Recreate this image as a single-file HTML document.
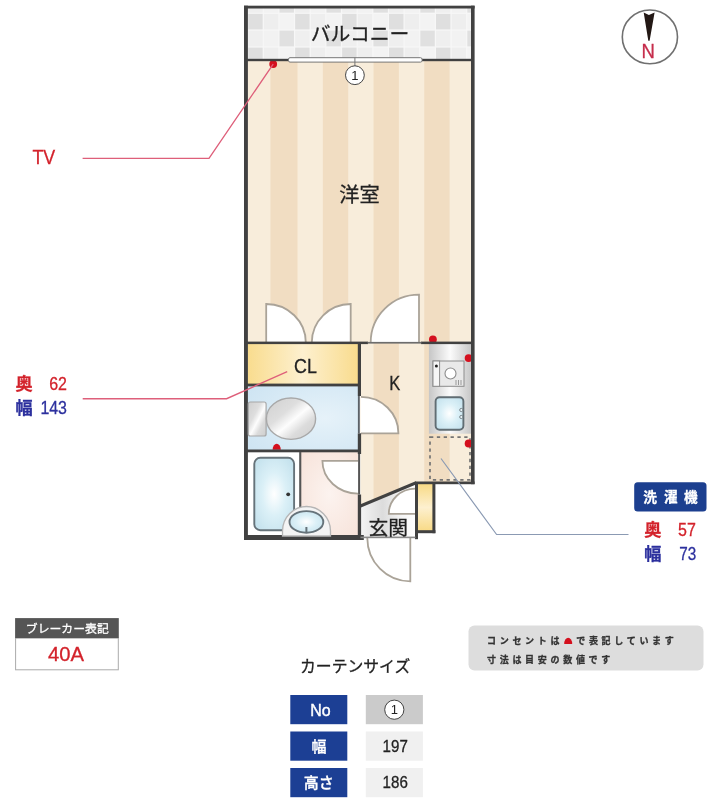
<!DOCTYPE html>
<html lang="ja"><head><meta charset="utf-8"><title>間取り図</title>
<style>html,body{margin:0;padding:0;background:#fff}body{width:710px;height:800px;overflow:hidden;font-family:"Liberation Sans","Noto Sans CJK JP",sans-serif}svg{display:block;filter:blur(.45px)}</style>
</head><body>
<svg width="710" height="800" viewBox="0 0 710 800">
<defs>
<linearGradient id="gCL" x1="0" x2="1" y1="0" y2="0"><stop offset="0" stop-color="#f9dc8e"/><stop offset=".5" stop-color="#fdf0cf"/><stop offset="1" stop-color="#f9dc8e"/></linearGradient>
<linearGradient id="gShoe" x1="0" x2="0" y1="0" y2="1"><stop offset="0" stop-color="#f8da86"/><stop offset=".5" stop-color="#fdf0cf"/><stop offset="1" stop-color="#f8da86"/></linearGradient>
<radialGradient id="gToilet" cx=".7" cy=".5" r=".8"><stop offset="0" stop-color="#e6f2f9"/><stop offset="1" stop-color="#cfe5f3"/></radialGradient>
<radialGradient id="gPink" cx=".5" cy=".5" r=".7"><stop offset="0" stop-color="#fcf3ef"/><stop offset="1" stop-color="#f7e3da"/></radialGradient>
<linearGradient id="gCounter" x1="0" x2="1" y1="0" y2="0"><stop offset="0" stop-color="#c6c6c6"/><stop offset=".5" stop-color="#fbfbfb"/><stop offset="1" stop-color="#c6c6c6"/></linearGradient>
<linearGradient id="gSilver" x1="0" x2="1" y1="0" y2="1"><stop offset="0" stop-color="#cfcfcf"/><stop offset=".36" stop-color="#dedede"/><stop offset=".54" stop-color="#fdfdfd"/><stop offset=".72" stop-color="#dcdcdc"/><stop offset="1" stop-color="#cdcdcd"/></linearGradient>
<radialGradient id="gWater" cx=".5" cy=".5" r=".6"><stop offset="0" stop-color="#ffffff"/><stop offset=".5" stop-color="#dbf0f7"/><stop offset="1" stop-color="#c6e3ee"/></radialGradient>
<linearGradient id="gGenkan" x1="0" x2="1" y1="0" y2="0"><stop offset="0" stop-color="#f4f4f4"/><stop offset=".4" stop-color="#dcdcdc"/><stop offset=".75" stop-color="#f6f6f6"/><stop offset="1" stop-color="#ffffff"/></linearGradient>
<clipPath id="cFloor"><polygon points="247.5,60 471.5,60 471.5,482 416,482 360.5,506 360.5,344 247.5,344"/></clipPath>
<clipPath id="cBal"><rect x="247.5" y="8" width="224" height="51.5"/></clipPath>
</defs>
<rect width="710" height="800" fill="#fff"/>
<g clip-path="url(#cBal)">
<rect x="240" y="0" width="240" height="70" fill="#f7f7f7"/>
<rect x="248.20" y="-3.15" width="14.45" height="15.80" fill="#efefef"/>
<rect x="263.85" y="-3.15" width="14.45" height="15.80" fill="#f2f2f2"/>
<rect x="279.50" y="-3.15" width="14.45" height="15.80" fill="#e0e0e0"/>
<rect x="295.15" y="-3.15" width="14.45" height="15.80" fill="#efefef"/>
<rect x="310.80" y="-3.15" width="14.45" height="15.80" fill="#f2f2f2"/>
<rect x="326.45" y="-3.15" width="14.45" height="15.80" fill="#e0e0e0"/>
<rect x="342.10" y="-3.15" width="14.45" height="15.80" fill="#efefef"/>
<rect x="357.75" y="-3.15" width="14.45" height="15.80" fill="#f2f2f2"/>
<rect x="373.40" y="-3.15" width="14.45" height="15.80" fill="#e0e0e0"/>
<rect x="389.05" y="-3.15" width="14.45" height="15.80" fill="#efefef"/>
<rect x="404.70" y="-3.15" width="14.45" height="15.80" fill="#f2f2f2"/>
<rect x="420.35" y="-3.15" width="14.45" height="15.80" fill="#e0e0e0"/>
<rect x="436.00" y="-3.15" width="14.45" height="15.80" fill="#efefef"/>
<rect x="451.65" y="-3.15" width="14.45" height="15.80" fill="#f2f2f2"/>
<rect x="467.30" y="-3.15" width="14.45" height="15.80" fill="#e0e0e0"/>
<rect x="482.95" y="-3.15" width="14.45" height="15.80" fill="#efefef"/>
<rect x="248.20" y="13.85" width="14.45" height="15.55" fill="#dfdfdf"/>
<rect x="263.85" y="13.85" width="14.45" height="15.55" fill="#eeeeee"/>
<rect x="279.50" y="13.85" width="14.45" height="15.55" fill="#f3f3f3"/>
<rect x="295.15" y="13.85" width="14.45" height="15.55" fill="#dfdfdf"/>
<rect x="310.80" y="13.85" width="14.45" height="15.55" fill="#eeeeee"/>
<rect x="326.45" y="13.85" width="14.45" height="15.55" fill="#f3f3f3"/>
<rect x="342.10" y="13.85" width="14.45" height="15.55" fill="#dfdfdf"/>
<rect x="357.75" y="13.85" width="14.45" height="15.55" fill="#eeeeee"/>
<rect x="373.40" y="13.85" width="14.45" height="15.55" fill="#f3f3f3"/>
<rect x="389.05" y="13.85" width="14.45" height="15.55" fill="#dfdfdf"/>
<rect x="404.70" y="13.85" width="14.45" height="15.55" fill="#eeeeee"/>
<rect x="420.35" y="13.85" width="14.45" height="15.55" fill="#f3f3f3"/>
<rect x="436.00" y="13.85" width="14.45" height="15.55" fill="#dfdfdf"/>
<rect x="451.65" y="13.85" width="14.45" height="15.55" fill="#eeeeee"/>
<rect x="467.30" y="13.85" width="14.45" height="15.55" fill="#f3f3f3"/>
<rect x="482.95" y="13.85" width="14.45" height="15.55" fill="#dfdfdf"/>
<rect x="248.20" y="30.60" width="14.45" height="15.80" fill="#efefef"/>
<rect x="263.85" y="30.60" width="14.45" height="15.80" fill="#f2f2f2"/>
<rect x="279.50" y="30.60" width="14.45" height="15.80" fill="#e0e0e0"/>
<rect x="295.15" y="30.60" width="14.45" height="15.80" fill="#efefef"/>
<rect x="310.80" y="30.60" width="14.45" height="15.80" fill="#f2f2f2"/>
<rect x="326.45" y="30.60" width="14.45" height="15.80" fill="#e0e0e0"/>
<rect x="342.10" y="30.60" width="14.45" height="15.80" fill="#efefef"/>
<rect x="357.75" y="30.60" width="14.45" height="15.80" fill="#f2f2f2"/>
<rect x="373.40" y="30.60" width="14.45" height="15.80" fill="#e0e0e0"/>
<rect x="389.05" y="30.60" width="14.45" height="15.80" fill="#efefef"/>
<rect x="404.70" y="30.60" width="14.45" height="15.80" fill="#f2f2f2"/>
<rect x="420.35" y="30.60" width="14.45" height="15.80" fill="#e0e0e0"/>
<rect x="436.00" y="30.60" width="14.45" height="15.80" fill="#efefef"/>
<rect x="451.65" y="30.60" width="14.45" height="15.80" fill="#f2f2f2"/>
<rect x="467.30" y="30.60" width="14.45" height="15.80" fill="#e0e0e0"/>
<rect x="482.95" y="30.60" width="14.45" height="15.80" fill="#efefef"/>
<rect x="248.20" y="47.60" width="14.45" height="15.80" fill="#dfdfdf"/>
<rect x="263.85" y="47.60" width="14.45" height="15.80" fill="#eeeeee"/>
<rect x="279.50" y="47.60" width="14.45" height="15.80" fill="#f3f3f3"/>
<rect x="295.15" y="47.60" width="14.45" height="15.80" fill="#dfdfdf"/>
<rect x="310.80" y="47.60" width="14.45" height="15.80" fill="#eeeeee"/>
<rect x="326.45" y="47.60" width="14.45" height="15.80" fill="#f3f3f3"/>
<rect x="342.10" y="47.60" width="14.45" height="15.80" fill="#dfdfdf"/>
<rect x="357.75" y="47.60" width="14.45" height="15.80" fill="#eeeeee"/>
<rect x="373.40" y="47.60" width="14.45" height="15.80" fill="#f3f3f3"/>
<rect x="389.05" y="47.60" width="14.45" height="15.80" fill="#dfdfdf"/>
<rect x="404.70" y="47.60" width="14.45" height="15.80" fill="#eeeeee"/>
<rect x="420.35" y="47.60" width="14.45" height="15.80" fill="#f3f3f3"/>
<rect x="436.00" y="47.60" width="14.45" height="15.80" fill="#dfdfdf"/>
<rect x="451.65" y="47.60" width="14.45" height="15.80" fill="#eeeeee"/>
<rect x="467.30" y="47.60" width="14.45" height="15.80" fill="#f3f3f3"/>
<rect x="482.95" y="47.60" width="14.45" height="15.80" fill="#dfdfdf"/>
</g>
<g clip-path="url(#cFloor)">
<rect x="240" y="55" width="240" height="460" fill="#f8eddb"/>
<rect x="270.45" y="55" width="27.05" height="460" fill="#f1ddc2"/>
<rect x="322.85" y="55" width="25.35" height="460" fill="#f1ddc2"/>
<rect x="373.55" y="55" width="25.35" height="460" fill="#f1ddc2"/>
<rect x="424.25" y="55" width="25.35" height="460" fill="#f1ddc2"/>
<rect x="474.95" y="55" width="25.35" height="460" fill="#f1ddc2"/>
</g>
<rect x="247.5" y="343.5" width="110.5" height="40.5" fill="url(#gCL)"/>
<rect x="247.5" y="386" width="110.5" height="64" fill="url(#gToilet)"/>
<rect x="247.5" y="452" width="52" height="84" fill="#ffffff"/>
<rect x="301" y="452" width="57.5" height="84" fill="url(#gPink)"/>
<polygon points="360.5,505.5 416,482.4 416,537 360.5,537" fill="url(#gGenkan)"/>
<rect x="417.5" y="484" width="15.5" height="47" fill="url(#gShoe)"/>
<rect x="428.9" y="343.5" width="42.5" height="90.2" fill="url(#gCounter)"/>
<path d="M266.2,342.5 L266.2,304 A39.5,38.5 0 0 1 305.8,342.5" fill="#fff" stroke="#aaa398" stroke-width="1.8"/>
<path d="M350.7,342.5 L350.7,304 A39,38.5 0 0 0 311.8,342.5" fill="#fff" stroke="#aaa398" stroke-width="1.8"/>
<path d="M419,342.5 L419,294.7 A48.3,47.8 0 0 0 370.7,342.5" fill="#fff" stroke="#aaa398" stroke-width="1.8"/>
<path d="M361,433.3 L398.4,433.3 A37.4,36.5 0 0 0 361,396.8" fill="#fff" stroke="#aaa398" stroke-width="1.8"/>
<path d="M358,460.8 L322.4,460.8 A35.6,32.8 0 0 0 358,493.6" fill="#fff" stroke="#aaa398" stroke-width="1.8"/>
<path d="M415.2,513.8 L388.8,513.8 A26.4,25.2 0 0 1 415.2,488.6" fill="#fff" stroke="#aaa398" stroke-width="1.8"/>
<path d="M410.3,538 L410.3,581.4 A43,43.4 0 0 1 367.3,538" fill="#fff" stroke="#aaa398" stroke-width="1.8"/>
<rect x="430" y="437.2" width="40" height="42.6" fill="none" stroke="#747474" stroke-width="1.7" stroke-dasharray="3.3 3.55"/>
<circle cx="273.2" cy="64.1" r="3.9" fill="#d4101e"/>
<circle cx="432.9" cy="339.5" r="3.9" fill="#d4101e"/>
<circle cx="468.6" cy="358.1" r="3.9" fill="#d4101e"/>
<circle cx="468.6" cy="443.5" r="3.9" fill="#d4101e"/>
<path d="M272.6,449.8 A4.1,6 0 0 1 280.8,449.8 Z" fill="#d4101e"/>
<rect x="244.0" y="5.7" width="230.60" height="2.80" fill="#414141"/>
<rect x="244.0" y="5.7" width="3.90" height="534.30" fill="#414141"/>
<rect x="471.0" y="5.7" width="3.60" height="478.50" fill="#414141"/>
<rect x="244.0" y="535" width="119.80" height="5.00" fill="#414141"/>
<rect x="247" y="58.8" width="42.00" height="2.40" fill="#414141"/>
<rect x="421.5" y="58.8" width="50.50" height="2.40" fill="#414141"/>
<rect x="247" y="341.6" width="121.00" height="2.50" fill="#414141"/>
<rect x="421" y="341.6" width="51.00" height="2.50" fill="#414141"/>
<rect x="367.5" y="341.9" width="54.00" height="1.70" fill="#6d6d6d"/>
<rect x="247" y="383.6" width="114.00" height="2.80" fill="#414141"/>
<rect x="247" y="449.5" width="114.00" height="2.80" fill="#414141"/>
<rect x="357.8" y="344" width="3.20" height="52.00" fill="#414141"/>
<rect x="357.8" y="433.3" width="3.30" height="20.70" fill="#414141"/>
<rect x="357.8" y="494.5" width="3.30" height="43.50" fill="#414141"/>
<rect x="357.9" y="396" width="1.90" height="37.30" fill="#5c6268"/>
<rect x="358.1" y="454" width="2.00" height="40.50" fill="#555"/>
<rect x="299.2" y="452" width="2.10" height="84.00" fill="#555"/>
<rect x="415" y="481.5" width="59.60" height="2.70" fill="#414141"/>
<polygon points="360.5,504.2 415.6,481.2 416.6,484.3 361,507.6" fill="#414141"/>
<rect x="415" y="482" width="3.00" height="57.20" fill="#414141"/>
<rect x="432.4" y="482" width="3.00" height="51.20" fill="#414141"/>
<rect x="415" y="530.2" width="20.40" height="3.00" fill="#414141"/>
<rect x="360.5" y="536.6" width="55.00" height="1.60" fill="#8a8a8a"/>
<rect x="288.5" y="57.7" width="133.5" height="4.4" rx="1.5" fill="#fff" stroke="#777" stroke-width="1"/>
<line x1="354.9" y1="57.7" x2="354.9" y2="66" stroke="#777" stroke-width="1"/>
<rect x="248.3" y="402" width="17.8" height="34" rx="2" fill="url(#gSilver)" stroke="#a8a8a8" stroke-width="1.2"/>
<ellipse cx="291" cy="418.7" rx="24.6" ry="20.7" fill="url(#gSilver)" stroke="#a8a8a8" stroke-width="1.4"/>
<rect x="254.3" y="457.8" width="39.8" height="72.4" rx="6" fill="url(#gWater)" stroke="#66737a" stroke-width="1.9"/>
<circle cx="288.2" cy="494.3" r="1.9" fill="#333"/>
<path d="M282.5,536 L282.5,531 A24,24.5 0 0 1 330.5,531 L330.5,536 Z" fill="#f4f4f4" stroke="#b5b5b5" stroke-width="1.3"/>
<ellipse cx="306.4" cy="521.9" rx="16.9" ry="10.8" fill="url(#gWater)" stroke="#66737a" stroke-width="1.9"/>
<rect x="305.4" y="527" width="2" height="5.5" fill="#66737a"/>
<rect x="433" y="361" width="31" height="25.3" fill="#e9e9e9" stroke="#8c8c8c" stroke-width="1"/>
<rect x="433" y="361" width="6.6" height="25.3" fill="#f6f6f6" stroke="#8c8c8c" stroke-width="1"/>
<circle cx="436.4" cy="366" r="1.5" fill="#222"/>
<circle cx="450.5" cy="373.5" r="5.5" fill="#fff" stroke="#8c8c8c" stroke-width="1.1"/>
<path d="M456,380v5M458.5,380v5M461,380v5" stroke="#999" stroke-width="1"/>
<rect x="435.6" y="397.2" width="27.8" height="32.6" rx="4" fill="url(#gWater)" stroke="#616d73" stroke-width="1.9"/>
<circle cx="461.3" cy="410" r="1.6" fill="#e8f4f8" stroke="#6f7b80" stroke-width=".9"/>
<circle cx="461.3" cy="417" r="1.6" fill="#e8f4f8" stroke="#6f7b80" stroke-width=".9"/>
<polyline points="273.2,64.1 209,158.3 82.6,158.3" fill="none" stroke="#de5f7a" stroke-width="1.35"/>
<polyline points="287.2,371.6 226.6,398.7 82.7,398.7" fill="none" stroke="#de5f7a" stroke-width="1.35"/>
<polyline points="441,458.5 496.6,534.5 628.5,534.5" fill="none" stroke="#8b9ab3" stroke-width="1.2"/>
<text x="310.8" y="41.2" font-size="19.8" fill="#222" text-anchor="start" font-family="'Liberation Sans','Noto Sans CJK JP',sans-serif"  stroke="#222" stroke-width=".3">バルコニー</text>
<text x="339.2" y="202.4" font-size="20.2" fill="#222" text-anchor="start" font-family="'Liberation Sans','Noto Sans CJK JP',sans-serif"  stroke="#222" stroke-width=".3">洋室</text>
<text x="294" y="373.2" font-size="20.6" fill="#222" text-anchor="start" font-family="'Liberation Sans','Noto Sans CJK JP',sans-serif" textLength="22.8" lengthAdjust="spacingAndGlyphs"  stroke="#222" stroke-width=".3">CL</text>
<text x="389.3" y="390.3" font-size="19.8" fill="#222" text-anchor="start" font-family="'Liberation Sans','Noto Sans CJK JP',sans-serif" textLength="11" lengthAdjust="spacingAndGlyphs"  stroke="#222" stroke-width=".3">K</text>
<text x="368.5" y="534.5" font-size="19.8" fill="#222" text-anchor="start" font-family="'Liberation Sans','Noto Sans CJK JP',sans-serif"  stroke="#222" stroke-width=".3">玄関</text>
<circle cx="354.9" cy="75.2" r="9.4" fill="#fff" stroke="#444" stroke-width="1"/>
<text x="354.9" y="79.9" font-size="13" fill="#222" text-anchor="middle" font-family="'Liberation Sans','Noto Sans CJK JP',sans-serif" stroke="none">1</text>
<text x="32.4" y="163.6" font-size="20.6" fill="#d3222b" text-anchor="start" font-family="'Liberation Sans','Noto Sans CJK JP',sans-serif" textLength="22.8" lengthAdjust="spacingAndGlyphs"  stroke="#d3222b" stroke-width=".3">TV</text>
<text x="15.5" y="390.2" font-size="17.2" fill="#d3222b" text-anchor="start" font-family="'Liberation Sans','Noto Sans CJK JP',sans-serif" font-weight="700" stroke="#d3222b" stroke-width=".3">奥</text>
<text x="49.2" y="390.4" font-size="18.1" fill="#d3222b" text-anchor="start" font-family="'Liberation Sans','Noto Sans CJK JP',sans-serif" textLength="17.8" lengthAdjust="spacingAndGlyphs"  stroke="#d3222b" stroke-width=".3">62</text>
<text x="15.5" y="414.2" font-size="17.2" fill="#2c309e" text-anchor="start" font-family="'Liberation Sans','Noto Sans CJK JP',sans-serif" font-weight="700" stroke="#2c309e" stroke-width=".3">幅</text>
<text x="40.4" y="414.2" font-size="18.1" fill="#2c309e" text-anchor="start" font-family="'Liberation Sans','Noto Sans CJK JP',sans-serif" textLength="26.6" lengthAdjust="spacingAndGlyphs"  stroke="#2c309e" stroke-width=".3">143</text>
<rect x="634.2" y="482.2" width="72.3" height="29.2" rx="3.5" fill="#1c3f8f"/>
<text x="650" y="501.7" font-size="13.6" fill="#fff" text-anchor="middle" font-family="'Liberation Sans','Noto Sans CJK JP',sans-serif" font-weight="700" stroke="#fff" stroke-width=".3">洗</text>
<text x="670.7" y="501.7" font-size="13.6" fill="#fff" text-anchor="middle" font-family="'Liberation Sans','Noto Sans CJK JP',sans-serif" font-weight="700" stroke="#fff" stroke-width=".3">濯</text>
<text x="690.8" y="501.7" font-size="13.6" fill="#fff" text-anchor="middle" font-family="'Liberation Sans','Noto Sans CJK JP',sans-serif" font-weight="700" stroke="#fff" stroke-width=".3">機</text>
<text x="644.2" y="535.9" font-size="17.2" fill="#d3222b" text-anchor="start" font-family="'Liberation Sans','Noto Sans CJK JP',sans-serif" font-weight="700" stroke="#d3222b" stroke-width=".3">奥</text>
<text x="678" y="536" font-size="17.6" fill="#d3222b" text-anchor="start" font-family="'Liberation Sans','Noto Sans CJK JP',sans-serif" textLength="17.8" lengthAdjust="spacingAndGlyphs"  stroke="#d3222b" stroke-width=".3">57</text>
<text x="644.2" y="559.9" font-size="17.2" fill="#2c309e" text-anchor="start" font-family="'Liberation Sans','Noto Sans CJK JP',sans-serif" font-weight="700" stroke="#2c309e" stroke-width=".3">幅</text>
<text x="679.3" y="560.3" font-size="17.6" fill="#2c309e" text-anchor="start" font-family="'Liberation Sans','Noto Sans CJK JP',sans-serif" textLength="17" lengthAdjust="spacingAndGlyphs"  stroke="#2c309e" stroke-width=".3">73</text>
<ellipse cx="649.9" cy="36.9" rx="27.6" ry="26.9" fill="#fff" stroke="#707070" stroke-width="1.6"/>
<path d="M643.7,12.4 L648.9,15 L654.6,12.4 L649.6,40.8 L648.3,40.8 Z" fill="#231815"/>
<text x="641.5" y="57.8" font-size="20.4" fill="#c62d4c" text-anchor="start" font-family="'Liberation Sans','Noto Sans CJK JP',sans-serif" textLength="13.4" lengthAdjust="spacingAndGlyphs"  stroke="#c62d4c" stroke-width=".3">N</text>
<rect x="15.6" y="638" width="102.7" height="31.8" fill="#fff" stroke="#aaa" stroke-width="1"/>
<rect x="15.1" y="618.1" width="103.7" height="20" fill="#555"/>
<text x="25.8" y="633.2" font-size="11.9" fill="#fff" text-anchor="start" font-family="'Liberation Sans','Noto Sans CJK JP',sans-serif" textLength="83" lengthAdjust="spacingAndGlyphs"  stroke="#fff" stroke-width=".3">ブレーカー表記</text>
<text x="48" y="661.2" font-size="20.8" fill="#d3222b" text-anchor="start" font-family="'Liberation Sans','Noto Sans CJK JP',sans-serif" textLength="36" lengthAdjust="spacingAndGlyphs"  stroke="#d3222b" stroke-width=".3">40A</text>
<rect x="468.5" y="625.6" width="235" height="45" rx="6" fill="#dddddd"/>
<text x="487" y="643.9" font-size="9" fill="#333" text-anchor="start" font-family="'Liberation Sans','Noto Sans CJK JP',sans-serif" font-weight="700" letter-spacing="3.7" stroke="#333" stroke-width=".3">コンセントは</text>
<path d="M564.2,644 A4,6.2 0 0 1 572.2,644 Z" fill="#d4101e"/>
<text x="576.2" y="643.9" font-size="9" fill="#333" text-anchor="start" font-family="'Liberation Sans','Noto Sans CJK JP',sans-serif" font-weight="700" letter-spacing="3.7" stroke="#333" stroke-width=".3">で表記しています</text>
<text x="487" y="662.5" font-size="9" fill="#333" text-anchor="start" font-family="'Liberation Sans','Noto Sans CJK JP',sans-serif" font-weight="700" letter-spacing="3.7" stroke="#333" stroke-width=".3">寸法は目安の数値です</text>
<text x="300" y="672" font-size="15.8" fill="#222" text-anchor="start" font-family="'Liberation Sans','Noto Sans CJK JP',sans-serif" textLength="110.3" lengthAdjust="spacingAndGlyphs"  stroke="#222" stroke-width=".3">カーテンサイズ</text>
<rect x="290.3" y="695.0" width="57" height="29.2" fill="#1c3f94"/>
<rect x="365.8" y="695.0" width="57.1" height="29.2" fill="#cbcbcb"/>
<rect x="290.3" y="731.5" width="57" height="29.2" fill="#1c3f94"/>
<rect x="365.8" y="731.5" width="57.1" height="29.2" fill="#f0f0f0"/>
<rect x="290.3" y="768.0" width="57" height="29.2" fill="#1c3f94"/>
<rect x="365.8" y="768.0" width="57.1" height="29.2" fill="#f0f0f0"/>
<text x="320.4" y="715.6" font-size="17" fill="#fff" text-anchor="middle" font-family="'Liberation Sans','Noto Sans CJK JP',sans-serif" textLength="20.4" lengthAdjust="spacingAndGlyphs" stroke="#fff" stroke-width=".45">No</text>
<text x="319" y="751.5" font-size="15" fill="#fff" text-anchor="middle" font-family="'Liberation Sans','Noto Sans CJK JP',sans-serif" font-weight="500" stroke="#fff" stroke-width=".3">幅</text>
<text x="318.7" y="788" font-size="15" fill="#fff" text-anchor="middle" font-family="'Liberation Sans','Noto Sans CJK JP',sans-serif" font-weight="500" stroke="#fff" stroke-width=".3">高さ</text>
<circle cx="394.3" cy="709.7" r="9.6" fill="#fff" stroke="#444" stroke-width="1"/>
<text x="394.3" y="714.4" font-size="13" fill="#222" text-anchor="middle" font-family="'Liberation Sans','Noto Sans CJK JP',sans-serif" stroke="none">1</text>
<text x="382.6" y="751.6" font-size="16.8" fill="#222" text-anchor="start" font-family="'Liberation Sans','Noto Sans CJK JP',sans-serif" textLength="25.2" lengthAdjust="spacingAndGlyphs"  stroke="#222" stroke-width=".3">197</text>
<text x="382.6" y="788.3" font-size="16.8" fill="#222" text-anchor="start" font-family="'Liberation Sans','Noto Sans CJK JP',sans-serif" textLength="25.2" lengthAdjust="spacingAndGlyphs"  stroke="#222" stroke-width=".3">186</text>
</svg>
</body></html>
